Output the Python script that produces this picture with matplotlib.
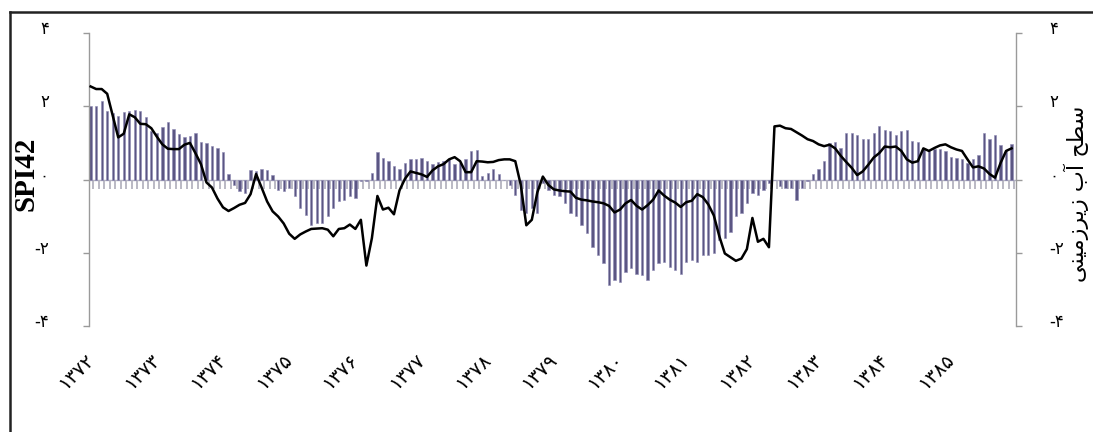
import matplotlib
matplotlib.use("Agg")
import matplotlib.pyplot as plt
import matplotlib.transforms as mtransforms
from matplotlib.lines import Line2D
import numpy as np

# ---------------- data ----------------
spi_bars = [
    2.00, 2.02, 2.14, 1.88, 1.81, 1.74, 1.83, 1.88, 1.91, 1.88, 1.72, 1.33,
    1.28, 1.42, 1.56, 1.39, 1.24, 1.15, 1.19, 1.28, 1.03, 1.01, 0.92, 0.86,
    0.75, 0.16, -0.14, -0.32, -0.37, 0.25, 0.23, 0.29, 0.25, 0.11, -0.28, -0.32,
    -0.23, -0.46, -0.78, -0.96, -1.24, -1.19, -1.19, -1.01, -0.78, -0.60, -0.55, -0.46,
    -0.50, -0.05, -0.03, 0.18, 0.75, 0.60, 0.50, 0.37, 0.28, 0.46, 0.55, 0.57,
    0.60, 0.50, 0.41, 0.48, 0.50, 0.57, 0.41, 0.46, 0.55, 0.78, 0.80, 0.09,
    0.18, 0.28, 0.14, -0.02, -0.14, -0.41, -0.83, -0.92, -0.78, -0.92, -0.09, -0.28,
    -0.41, -0.46, -0.64, -0.92, -1.01, -1.24, -1.47, -1.83, -2.06, -2.29, -2.89, -2.75,
    -2.80, -2.52, -2.43, -2.57, -2.61, -2.75, -2.48, -2.29, -2.25, -2.39, -2.48, -2.57,
    -2.25, -2.20, -2.25, -2.06, -2.06, -2.02, -1.65, -1.61, -1.42, -1.01, -0.92, -0.64,
    -0.37, -0.41, -0.28, -0.09, 0.00, -0.18, -0.23, -0.23, -0.55, -0.23, -0.05, 0.14,
    0.29, 0.50, 1.01, 1.03, 0.87, 1.28, 1.28, 1.21, 1.10, 1.10, 1.28, 1.45,
    1.36, 1.33, 1.21, 1.33, 1.35, 1.06, 1.03, 0.83, 0.78, 0.83, 0.84, 0.78,
    0.62, 0.60, 0.55, 0.46, 0.55, 0.66, 1.26, 1.10, 1.22, 0.94, 0.80, 0.98,
]

groundwater = [
    2.54, 2.47, 2.47, 2.34, 1.75, 1.15, 1.25, 1.78, 1.70, 1.52, 1.51, 1.40,
    1.17, 0.96, 0.84, 0.83, 0.83, 0.95, 1.00, 0.72, 0.42, -0.08, -0.22, -0.52,
    -0.76, -0.86, -0.78, -0.69, -0.64, -0.40, 0.15, -0.22, -0.60, -0.87, -1.01, -1.20,
    -1.48, -1.62, -1.50, -1.42, -1.35, -1.34, -1.33, -1.37, -1.55, -1.35, -1.33, -1.23,
    -1.35, -1.10, -2.35, -1.60, -0.45, -0.82, -0.77, -0.95, -0.30, 0.02, 0.22, 0.18,
    0.14, 0.07, 0.25, 0.36, 0.42, 0.55, 0.61, 0.50, 0.20, 0.20, 0.50, 0.49,
    0.47, 0.48, 0.53, 0.55, 0.55, 0.50, -0.15, -1.25, -1.10, -0.35, 0.08, -0.15,
    -0.27, -0.30, -0.32, -0.33, -0.50, -0.55, -0.57, -0.60, -0.62, -0.65, -0.72, -0.90,
    -0.82, -0.65, -0.56, -0.72, -0.82, -0.70, -0.55, -0.30, -0.44, -0.55, -0.63, -0.75,
    -0.62, -0.58, -0.40, -0.48, -0.68, -0.98, -1.55, -2.02, -2.12, -2.22, -2.16, -1.90,
    -1.05, -1.70, -1.62, -1.85, 1.45, 1.47, 1.40, 1.38, 1.29, 1.20, 1.10, 1.05,
    0.96, 0.91, 0.95, 0.85, 0.65, 0.48, 0.32, 0.12, 0.22, 0.40, 0.60, 0.72,
    0.90, 0.88, 0.90, 0.78, 0.55, 0.46, 0.50, 0.85, 0.78, 0.86, 0.93, 0.96,
    0.88, 0.82, 0.78, 0.55, 0.33, 0.36, 0.30, 0.15, 0.05, 0.45, 0.78, 0.85,
]

year_labels = ["۱۳۷۲", "۱۳۷۳", "۱۳۷۴", "۱۳۷۵", "۱۳۷۶", "۱۳۷۷", "۱۳۷۸",
               "۱۳۷۹", "۱۳۸۰", "۱۳۸۱", "۱۳۸۲", "۱۳۸۳", "۱۳۸۴", "۱۳۸۵"]
y_ticks = [4, 2, 0, -2, -4]
y_tick_labels = ["۴", "۲", "۰", "-۲", "-۴"]
left_label = "SPI42"
# "سطح آب زیرزمینی" written with Arabic presentation forms in visual order
right_label = ("\uFEF0\uFEE8\uFEF4\uFEE3\uFEAF\uFEAE\uFEF3\uFEAF"
               " \uFE8F\uFE81 "
               "\uFEA2\uFEC4\uFEB3")

# ---------------- figure ----------------
W, H = 1093, 432
fig = plt.figure(figsize=(W / 100, H / 100), dpi=100)
fig.patch.set_facecolor("white")

ax_l, ax_r = 89 / W, 1016 / W
ax_b, ax_t = (H - 326) / H, (H - 33) / H
ax = fig.add_axes([ax_l, ax_b, ax_r - ax_l, ax_t - ax_b])

n = len(spi_bars)
x = np.arange(n)

# small category tick marks below the zero line
ax.vlines(x + 0.45, -0.27, 0, color="#b4b3bf", lw=1.3, zorder=1)
ax.axhline(0, color="#b4b3c2", lw=1.0, zorder=1)
ax.bar(x, spi_bars, width=0.42, color="#5b5683", edgecolor="#8f8ab5",
       linewidth=0.4, zorder=2)
ax.plot(x, groundwater, color="black", lw=1.8, zorder=3,
        solid_joinstyle="round")

ax.set_xlim(-0.3, n - 0.2)
ax.set_ylim(-4, 4)

for s in ["top", "bottom", "right"]:
    ax.spines[s].set_visible(False)
ax.spines["left"].set_color("#9a9a9a")
ax.spines["left"].set_linewidth(1.0)

up = mtransforms.ScaledTranslation(0, 6 / 100, fig.dpi_scale_trans)

ax.set_yticks(y_ticks)
ax.set_yticklabels(y_tick_labels, fontsize=12, family=["DejaVu Sans"])
ax.tick_params(axis="y", direction="out", length=4, width=1.0,
               color="#9a9a9a", pad=25)
for lab in ax.get_yticklabels():
    lab.set_transform(lab.get_transform() + up)

# right axis
ax2 = ax.twinx()
ax2.set_ylim(-4, 4)
for s in ["top", "bottom", "left"]:
    ax2.spines[s].set_visible(False)
ax2.spines["right"].set_color("#9a9a9a")
ax2.spines["right"].set_linewidth(1.0)
ax2.set_yticks(y_ticks)
ax2.set_yticklabels(y_tick_labels, fontsize=12, family=["DejaVu Sans"])
ax2.tick_params(axis="y", direction="out", length=4, width=1.0,
                color="#9a9a9a", pad=20)
for lab in ax2.get_yticklabels():
    lab.set_transform(lab.get_transform() + up)

# x labels
ax.set_xticks(np.arange(len(year_labels)) * 12)
ax.set_xticklabels(year_labels, rotation=45, ha="right", va="center",
                   rotation_mode="anchor", fontsize=14, family=["DejaVu Sans"])
ax.tick_params(axis="x", length=0, pad=22)

# axis titles
fig.text(26 / W, (H - 174) / H, left_label, rotation=90, ha="center",
         va="center", fontsize=21, fontweight="bold",
         family=["Liberation Serif"])
fig.text(1076 / W, (H - 194) / H, right_label, rotation=90, ha="center",
         va="center", fontsize=16, family=["DejaVu Sans"])

# outer frame (top and left edges)
fig.add_artist(Line2D([10 / W, 10 / W], [0, (H - 12) / H],
                      transform=fig.transFigure, color="#222222", lw=1.8))
fig.add_artist(Line2D([10 / W, 1], [(H - 12) / H, (H - 12) / H],
                      transform=fig.transFigure, color="#222222", lw=1.8))

fig.savefig("out.png", dpi=100, facecolor="white")
